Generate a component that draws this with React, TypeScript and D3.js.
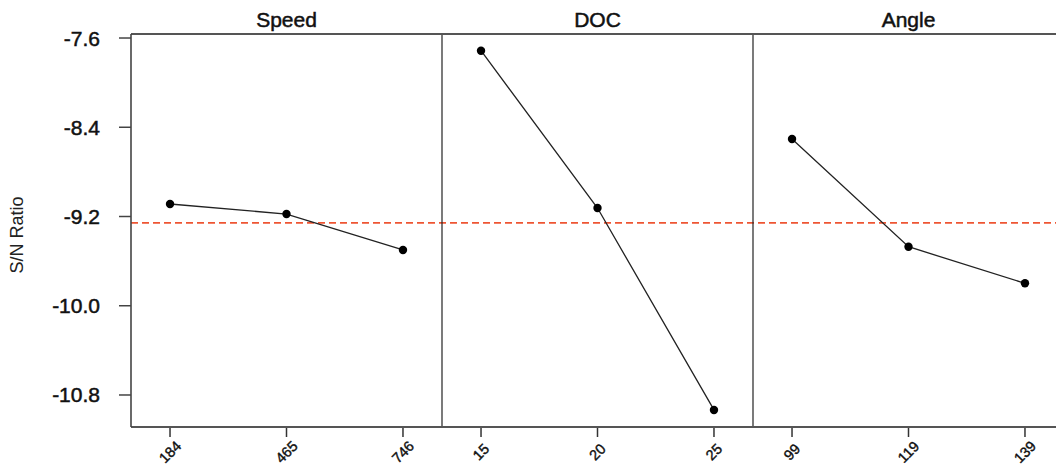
import React from "react";
import * as d3 from "d3";

const panels = ["Speed", "DOC", "Angle"];
const speedLevels = ["184", "465", "746"];
const docLevels = ["15", "20", "25"];
const angleLevels = ["99", "119", "139"];
const speedSN = [-9.088, -9.178, -9.5];
const docSN = [-7.714, -9.124, -10.934];
const angleSN = [-8.505, -9.471, -9.799];
const yTicks = [-7.6, -8.4, -9.2, -10.0, -10.8];
const yLabel = "S/N Ratio";

const levelsList = [speedLevels, docLevels, angleLevels];
const valuesList = [speedSN, docSN, angleSN];

export default function App() {
  const W = 1056, H = 466;
  const left = 131, top = 34, bottom = 427;
  const panelW = 311;
  const y = d3.scaleLinear().domain([-7.564, -11.087]).range([top, bottom]);
  const allVals = valuesList.flat();
  const mean = d3.mean(allVals) as number;
  const line = d3.line<[number, number]>().x(d => d[0]).y(d => d[1]);
  const fam = "'Liberation Sans', Arial, sans-serif";

  return (
    <svg width={W} height={H} style={{ position: "absolute", left: 0, top: 0, background: "#fff" }}>
      <rect x={0} y={0} width={W} height={H} fill="#fff" />
      <line x1={left} x2={W} y1={y(mean)} y2={y(mean)} stroke="#EE5533" strokeWidth={1.6} strokeDasharray="7,4" />
      {panels.map((p, i) => {
        const x0 = left + i * panelW;
        const x = d3.scalePoint<string>().domain(levelsList[i]).range([x0, x0 + panelW]).padding(0.335);
        const pts: [number, number][] = levelsList[i].map((l, j) => [x(l) as number, y(valuesList[i][j])]);
        return (
          <g key={p}>
            <text x={x0 + panelW / 2} y={27} textAnchor="middle" fontFamily={fam} fontSize={21} fill="#111" stroke="#111" strokeWidth={0.5}>{p}</text>
            {i > 0 && <line x1={x0} x2={x0} y1={top} y2={bottom} stroke="#222" strokeWidth={1.2} />}
            <path d={line(pts) || ""} fill="none" stroke="#222" strokeWidth={1.3} />
            {pts.map((pt, j) => (
              <circle key={j} cx={pt[0]} cy={pt[1]} r={4.2} fill="#000" />
            ))}
            {levelsList[i].map(l => (
              <g key={l}>
                <line x1={x(l)} x2={x(l)} y1={bottom} y2={bottom + 10} stroke="#333" strokeWidth={1.5} />
                <text transform={`translate(${x(l)},452) rotate(-45)`} textAnchor="middle" dominantBaseline="central" fontFamily={fam} fontSize={14.5} fill="#111" stroke="#111" strokeWidth={0.4}>{l}</text>
              </g>
            ))}
          </g>
        );
      })}
      <line x1={left} x2={W} y1={top} y2={top} stroke="#555" strokeWidth={2} />
      <line x1={left} x2={W} y1={bottom} y2={bottom} stroke="#555" strokeWidth={2} />
      <line x1={left} x2={left} y1={top} y2={bottom} stroke="#444" strokeWidth={1.6} />
      {yTicks.map(t => (
        <g key={t}>
          <line x1={left - 12} x2={left} y1={y(t)} y2={y(t)} stroke="#444" strokeWidth={1.5} />
          <text x={100} y={y(t)} textAnchor="end" dominantBaseline="central" fontFamily={fam} fontSize={21} fill="#111" stroke="#111" strokeWidth={0.5}>{t.toFixed(1)}</text>
        </g>
      ))}
      <text transform={`translate(23,235) rotate(-90)`} textAnchor="middle" fontFamily={fam} fontSize={18} fill="#222">{yLabel}</text>
    </svg>
  );
}
